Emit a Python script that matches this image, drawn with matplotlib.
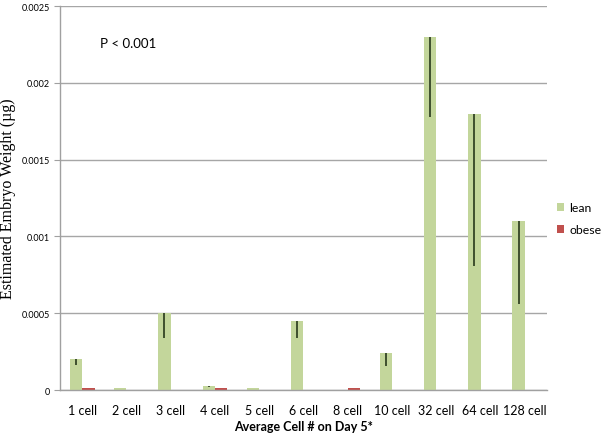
import matplotlib
matplotlib.use("Agg")
import matplotlib.pyplot as plt
import numpy as np

categories = ["1 cell", "2 cell", "3 cell", "4 cell", "5 cell", "6 cell",
              "8 cell", "10 cell", "32 cell", "64 cell", "128 cell"]
lean = [0.000205, 0.00001, 0.0005, 0.000027, 0.000016, 0.000447,
        0.0, 0.000238, 0.0023, 0.0018, 0.0011]
lean_err_minus = [0.00004, 0.0, 0.00016, 0.00001, 0.0, 0.00011,
                  0.0, 0.00008, 0.00052, 0.00099, 0.00054]
obese = [0.00001, 0.0, 0.0, 0.00001, 0.0, 0.0,
         0.00001, 0.0, 0.0, 0.0, 0.0]
yticks = [0, 0.0005, 0.001, 0.0015, 0.002, 0.0025]
ytick_labels = ["0", "0.0005", "0.001", "0.0015", "0.002", "0.0025"]

fig = plt.figure(figsize=(6.04, 4.35), dpi=100)
ax = fig.add_axes([0.0993, 0.1011, 0.8063, 0.8828])

x = np.arange(len(categories))
w = 0.28
lean_c = "#C3D69B"
obese_c = "#C0504D"
ax.bar(x - w / 2, lean, w, color=lean_c, label="lean", zorder=2)
ax.bar(x + w / 2, obese, w, color=obese_c, label="obese", zorder=2)
ax.errorbar(x - w / 2, lean, yerr=[lean_err_minus, [0] * len(lean)],
            fmt="none", ecolor="#1a2a10", elinewidth=1.1, capsize=0, zorder=3)

ax.set_xlim(-0.5, len(categories) - 0.5)
ax.set_ylim(0, 0.0025)
ax.set_yticks(yticks)
ax.set_yticklabels(ytick_labels, fontsize=6.5, family="Lato")
ax.set_xticks(x)
ax.set_xticklabels(categories, fontsize=9, family="Lato")
ax.tick_params(axis="x", length=0, pad=10)
ax.tick_params(axis="y", length=4, color="#a0a0a0", pad=3)
ax.yaxis.grid(True, color="#a6a6a6", linewidth=1.0, zorder=0)
ax.set_axisbelow(True)
for s in ["top", "right"]:
    ax.spines[s].set_visible(False)
ax.spines["left"].set_color("#a0a0a0")
ax.spines["bottom"].set_color("#a0a0a0")
ax.spines["left"].set_linewidth(1.0)
ax.spines["bottom"].set_linewidth(1.0)

ax.set_xlabel("Average Cell # on Day 5*", fontsize=9, fontweight="bold",
              family="Lato")
ax.xaxis.set_label_coords(0.5, -0.078)
ax.set_ylabel("Estimated Embryo Weight (\u00b5g)", fontsize=11.5,
              family="Liberation Serif")
ax.yaxis.set_label_coords(-0.09, 0.5)

ax.text(0.082, 0.904, "P < 0.001", transform=ax.transAxes, fontsize=9.5,
        family="Lato", va="center", ha="left")

leg = fig.legend(loc="center left", bbox_to_anchor=(0.922, 0.495),
                 bbox_transform=fig.transFigure, frameon=False,
                 prop={"family": "Lato", "size": 8.8}, borderaxespad=0,
                 borderpad=0, handlelength=0.6, handleheight=0.6,
                 handletextpad=0.4, labelspacing=0.9)

fig.savefig("out.png", dpi=100)
